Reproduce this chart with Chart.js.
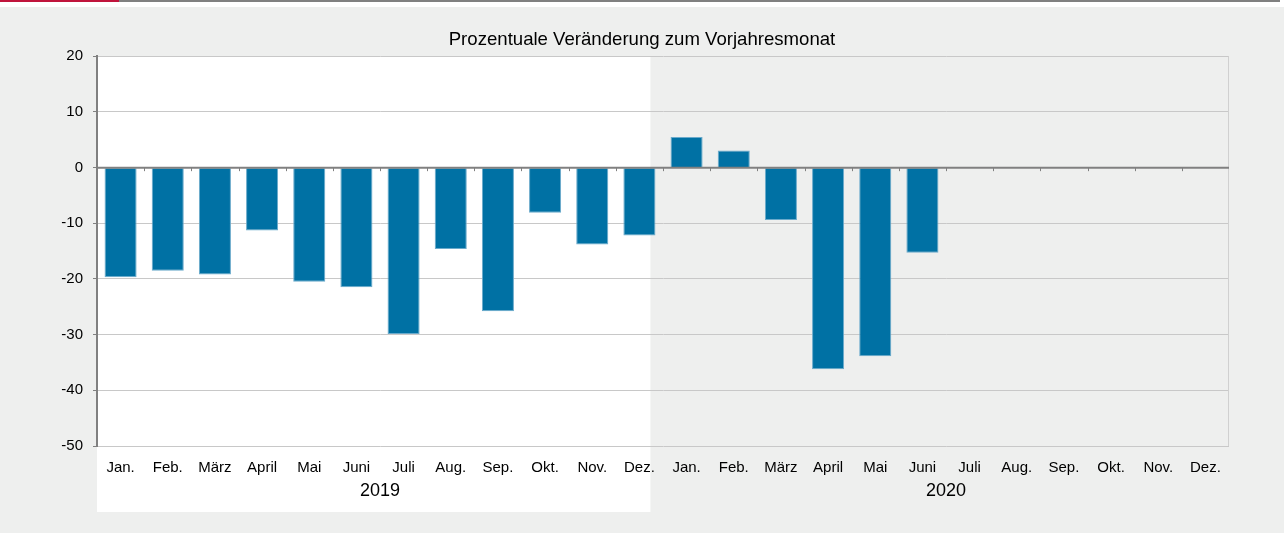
<!DOCTYPE html>
<html lang="de">
<head>
    <meta charset="UTF-8">
    <title>Prozentuale Veränderung zum Vorjahresmonat</title>
    <script src="https://cdn.jsdelivr.net/npm/chart.js"></script>
    <style>
        body { margin: 0; background: #fff; width: 1284px; height: 533px; overflow: hidden; }
        #topline { position: absolute; left: 0; top: 0; width: 1280px; height: 2px; background: #808080; }
        #topline span { display: block; width: 119px; height: 2px; background: #c0143c; }
        #wrap { position: absolute; left: 0; top: 7px; width: 1284px; height: 526px; background: #eeefee; }
    </style>
</head>
<body>
    <div id="topline"><span></span></div>
    <div id="wrap"><canvas id="chart" width="1284" height="526"></canvas></div>

    <script>
        // Monate (zwei Jahre) und Werte in %
        const monate = ['Jan.', 'Feb.', 'März', 'April', 'Mai', 'Juni', 'Juli', 'Aug.', 'Sep.', 'Okt.', 'Nov.', 'Dez.',
                        'Jan.', 'Feb.', 'März', 'April', 'Mai', 'Juni', 'Juli', 'Aug.', 'Sep.', 'Okt.', 'Nov.', 'Dez.'];
        const jahre = ['2019', '2020'];
        const werte2019 = [-19.7, -18.5, -19.2, -11.3, -20.5, -21.5, -29.9, -14.6, -25.8, -8.1, -13.8, -12.2];
        const werte2020 = [5.5, 3.1, -9.4, -36.2, -33.9, -15.3, null, null, null, null, null, null];

        const werte = werte2019.concat(werte2020);

        // weisser Hintergrund fuer 2019, Rahmen und Striche an der Nulllinie
        const dekoPlugin = {
            id: 'deko',
            beforeDraw(chart) {
                const ctx = chart.ctx;
                const a = chart.chartArea;
                const x = chart.scales.x;
                const ende = x.getPixelForValue(11) + 11;
                ctx.save();
                ctx.fillStyle = '#ffffff';
                ctx.fillRect(a.left, a.top, ende - a.left, chart.height - 21 - a.top);
                ctx.restore();
            },
            afterDatasetsDraw(chart) {
                const ctx = chart.ctx;
                const a = chart.chartArea;
                const x = chart.scales.x;
                const y0 = chart.scales.y.getPixelForValue(0);
                const breite = x.getPixelForValue(1) - x.getPixelForValue(0);
                ctx.save();
                // rechter Rahmen
                ctx.strokeStyle = '#d0d0d0';
                ctx.lineWidth = 1;
                ctx.beginPath();
                ctx.moveTo(a.right - 0.5, a.top);
                ctx.lineTo(a.right - 0.5, a.bottom);
                ctx.stroke();
                // Nulllinie mit Strichen
                ctx.strokeStyle = '#808080';
                ctx.lineWidth = 2;
                ctx.beginPath();
                ctx.moveTo(a.left, y0);
                ctx.lineTo(a.right, y0);
                ctx.stroke();
                ctx.lineWidth = 1;
                ctx.beginPath();
                for (let i = 1; i < monate.length; i++) {
                    const px = Math.round(x.getPixelForValue(i) - breite / 2) + 0.5;
                    ctx.moveTo(px, y0);
                    ctx.lineTo(px, y0 + 3.5);
                }
                ctx.stroke();
                ctx.restore();
            }
        };

        new Chart(document.getElementById('chart'), {
            type: 'bar',
            data: {
                labels: monate,
                datasets: [{
                    data: werte,
                    backgroundColor: '#0071a4',
                    borderColor: '#6aaacb',
                    borderWidth: 1,
                    barPercentage: 0.68,
                    categoryPercentage: 1.0
                }]
            },
            options: {
                responsive: false,
                animation: false,
                layout: { padding: { left: 0, right: 0, top: 0, bottom: 32 } },
                plugins: {
                    legend: { display: false },
                    tooltip: { enabled: false },
                    title: {
                        display: true,
                        text: 'Prozentuale Veränderung zum Vorjahresmonat',
                        color: '#000',
                        font: { family: 'Liberation Sans', size: 18.6, weight: 'normal' },
                        padding: { top: 22, bottom: 5 }
                    }
                },
                scales: {
                    x: {
                        weight: 0,
                        afterFit(scale) { scale.height = 30; },
                        grid: { display: false, drawTicks: false },
                        border: { display: false },
                        ticks: {
                            color: '#000',
                            font: { family: 'Liberation Sans', size: 15 },
                            maxRotation: 0,
                            autoSkip: false,
                            padding: 13
                        }
                    },
                    x2: {
                        type: 'category',
                        labels: jahre,
                        position: 'bottom',
                        weight: 1,
                        offset: true,
                        afterFit(scale) { scale.height = 25; },
                        grid: { display: false, drawTicks: false },
                        border: { display: false },
                        ticks: {
                            color: '#000',
                            font: { family: 'Liberation Sans', size: 18 },
                            maxRotation: 0,
                            padding: 4
                        }
                    },
                    y: {
                        min: -50,
                        max: 20,
                        afterFit(scale) { scale.width = 97; },
                        ticks: {
                            stepSize: 10,
                            color: '#000',
                            font: { family: 'Liberation Sans', size: 15 },
                            padding: 10
                        },
                        border: { color: '#808080', width: 2 },
                        grid: {
                            color: '#c8c8c8',
                            tickLength: 4,
                            tickColor: '#808080'
                        }
                    },
                    // leerer Rand rechts, damit der Titel mittig bleibt
                    yRand: {
                        position: 'right',
                        afterFit(scale) { scale.width = 55; },
                        ticks: { display: false },
                        grid: { display: false, drawTicks: false },
                        border: { display: false }
                    }
                }
            },
            plugins: [dekoPlugin]
        });
    </script>
</body>
</html>
